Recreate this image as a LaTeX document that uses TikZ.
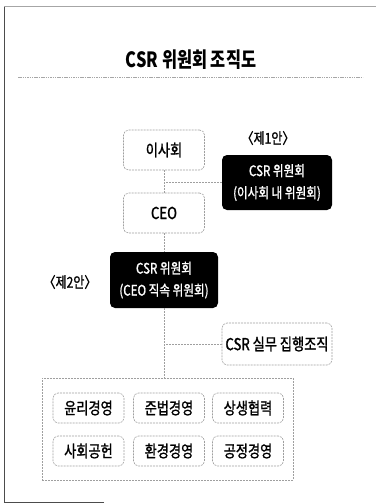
\documentclass[tikz,border=0pt]{standalone}
\usepackage{fontspec}
\newfontfamily\ko[FakeStretch=0.78]{Noto Sans CJK KR}
\newfontfamily\kom[FakeStretch=0.8,FakeBold=1.2]{Noto Sans CJK KR}
\begin{document}
\begin{tikzpicture}[x=1pt,y=-1pt,
  dbox/.style={draw=gray!75, dash pattern=on 2pt off 1pt, rounded corners=5pt, line width=0.6pt, inner sep=0pt, font=\kom\fontsize{16.5}{18}\selectfont},
  bbox/.style={fill=black, rounded corners=5pt, text=white, align=center, inner sep=0pt, font=\kom\fontsize{14.5}{22}\selectfont},
  gbox/.style={draw=gray!75, dash pattern=on 2pt off 1pt, line width=0.6pt, inner sep=0pt},
  conn/.style={draw=gray!75, dash pattern=on 2pt off 1pt, line width=0.6pt},
  lbl/.style={inner sep=0pt, font=\kom\fontsize{15}{17}\selectfont}]
\useasboundingbox (0,0) rectangle (376,504);
% frame
\draw[gray!60!black, line width=0.8pt] (104,502) -- (4,502) -- (4,6);
\draw[gray!70, line width=0.7pt] (4,6) -- (376,6);
% title
\node[inner sep=0pt, font=\ko\bfseries\fontsize{21}{24}\selectfont] (title) at (191,60) {CSR 위원회 조직도};
\draw[gray!70, dash pattern=on 1.5pt off 0.8pt, line width=0.5pt] (18,77) -- (363,77);
% nodes
\node[dbox, minimum width=81pt, minimum height=40pt] (board) at (164,150) {이사회};
\node[lbl] (p1) at (268,138) {〈제1안〉};
\node[bbox, minimum width=110pt, minimum height=55pt] (cm1) at (277,182.5) {CSR 위원회\\(이사회 내 위원회)};
\node[dbox, minimum width=81pt, minimum height=40pt] (ceo) at (164,213) {CEO};
\node[bbox, minimum width=108pt, minimum height=56pt] (cm2) at (164,280) {CSR 위원회\\(CEO 직속 위원회)};
\node[lbl] (p2) at (70,282) {〈제2안〉};
\node[dbox, minimum width=110pt, minimum height=42pt] (exec) at (277,344) {CSR 실무 집행조직};
\node[gbox, minimum width=251pt, minimum height=102pt] (group) at (167.5,429) {};
\node[dbox, minimum width=71pt, minimum height=30pt] (a1) at (88.5,408) {윤리경영};
\node[dbox, minimum width=71pt, minimum height=30pt] (a2) at (169,408) {준법경영};
\node[dbox, minimum width=71pt, minimum height=30pt] (a3) at (248,408) {상생협력};
\node[dbox, minimum width=71pt, minimum height=30pt] (b1) at (88.5,451) {사회공헌};
\node[dbox, minimum width=71pt, minimum height=30pt] (b2) at (169,451) {환경경영};
\node[dbox, minimum width=71pt, minimum height=30pt] (b3) at (248,451) {공정경영};
% connectors
\draw[conn] (board.south) -- (ceo.north);
\draw[conn] (cm1.west) -- (cm1.west -| board.south);
\draw[conn] (ceo.south) -- (cm2.north);
\draw[conn] (cm2.south) -- (cm2.south |- group.north);
\draw[conn] (exec.west) -- (exec.west -| cm2.south);
\end{tikzpicture}
\end{document}
